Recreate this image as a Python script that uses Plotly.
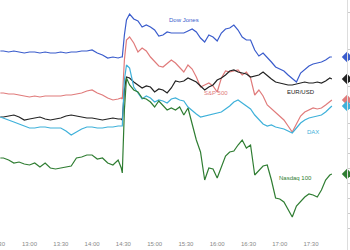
import plotly.graph_objects as go

DAY = "2024-01-10"

pre_times = ["12:32", "12:35", "12:40", "12:45", "12:50", "12:55", "13:00", "13:05", "13:10",
             "13:15", "13:20", "13:25", "13:30", "13:35", "13:40", "13:45", "13:50", "13:55",
             "14:00", "14:05", "14:10", "14:15", "14:20", "14:25", "14:28", "14:29"]
post_times = ["14:31", "14:33", "14:36", "14:40", "14:44", "14:48", "14:52", "14:56", "15:00",
              "15:04", "15:08", "15:12", "15:16", "15:20", "15:24", "15:28", "15:32", "15:36",
              "15:40", "15:44", "15:48", "15:52", "15:56", "16:00", "16:04", "16:08", "16:12",
              "16:16", "16:20", "16:24", "16:28", "16:32", "16:36", "16:40", "16:44", "16:48",
              "16:52", "16:56", "17:00", "17:04", "17:08", "17:12", "17:16", "17:20", "17:24",
              "17:28", "17:32", "17:36", "17:40", "17:44", "17:48", "17:50"]
times = [f"{DAY} {t}" for t in pre_times + post_times]

dow_jones = [199, 199, 198, 199, 198, 197, 198, 198, 197, 198, 197, 197, 198, 197, 198, 198, 199,
             199, 200, 197, 195, 192, 193, 192, 193, 193,
             215, 230, 236, 231, 229, 223, 225, 223, 220, 214, 215, 218, 217, 217, 217, 217, 219,
             221, 218, 212, 208, 215, 213, 209, 217, 221, 222, 225, 220, 213, 210, 210, 200, 194,
             197, 193, 188, 183, 181, 179, 175, 171, 168, 177, 181, 184, 186, 187, 188, 190, 193, 193]
sp500 = [157, 157, 156, 156, 155, 154, 153, 154, 153, 154, 154, 154, 154, 155, 155, 156, 157,
         159, 160, 157, 155, 152, 150, 151, 152, 151,
         190, 210, 213, 207, 198, 202, 199, 193, 188, 184, 183, 187, 190, 187, 183, 178, 185,
         181, 173, 163, 165, 167, 164, 158, 172, 179, 178, 179, 180, 175, 178, 172, 155, 160,
         154, 145, 141, 138, 134, 130, 124, 118, 126, 134, 138, 140, 142, 141, 142, 145, 149, 150]
eurusd = [133, 133, 134, 135, 133, 130, 131, 132, 133, 131, 130, 131, 132, 134, 135, 134, 133,
          132, 132, 131, 130, 131, 132, 131, 131, 130,
          160, 173, 172, 168, 165, 162, 164, 163, 158, 161, 160, 157, 162, 169, 168, 169, 172,
          170, 168, 164, 160, 163, 165, 170, 172, 175, 179, 180, 178, 177, 176, 173, 174, 175,
          178, 174, 171, 168, 167, 166, 165, 165, 166, 167, 168, 167, 167, 168, 167, 169, 172, 171]
dax = [133, 132, 130, 128, 126, 124, 122, 122, 123, 123, 122, 122, 122, 119, 115, 118, 121,
       123, 123, 122, 122, 123, 123, 124, 124, 124,
       170, 185, 182, 163, 157, 151, 154, 152, 148, 150, 149, 147, 151, 152, 150, 149, 143,
       139, 136, 133, 134, 135, 136, 137, 138, 141, 144, 148, 150, 147, 144, 141, 135, 131,
       126, 124, 125, 123, 122, 121, 119, 117, 122, 127, 130, 132, 133, 134, 135, 138, 142, 144]
nasdaq100 = [92, 92, 90, 87, 88, 86, 85, 87, 83, 87, 82, 81, 82, 83, 84, 92, 93, 95, 95, 91,
             92, 87, 85, 90, 82, 77,
             140, 172, 165, 160, 158, 152, 151, 148, 143, 149, 145, 140, 142, 140, 143, 135, 142,
             127, 110, 98, 70, 82, 81, 72, 84, 94, 98, 99, 105, 110, 102, 105, 75, 80,
             84, 85, 70, 52, 51, 48, 40, 33, 44, 49, 53, 56, 55, 53, 60, 70, 75, 76]

names = ["Dow Jones", "S&P 500", "EUR/USD", "DAX", "Nasdaq 100"]
series = [dow_jones, sp500, eurusd, dax, nasdaq100]
colors = ["#3a5ccc", "#e07b7b", "#222222", "#3fb1da", "#2f7d32"]

# label positions (time, value)
label_x = [f"{DAY} 15:28", f"{DAY} 15:59", f"{DAY} 17:20", f"{DAY} 17:32", f"{DAY} 17:15"]
label_y = [230, 157, 158, 118, 72]

x_start = f"{DAY} 12:31:42"
x_end = f"{DAY} 18:04:30"
marker_x = f"{DAY} 18:04:30"

fig = go.Figure()
for name, vals, col in zip(names, series, colors):
    fig.add_trace(go.Scatter(x=times, y=vals, mode="lines", name=name,
                             line=dict(color=col, width=1.2), hoverinfo="skip"))

fig.add_trace(go.Scatter(x=[marker_x] * len(series), y=[s[-1] for s in series], mode="markers",
                         marker=dict(symbol="diamond", size=8, color=colors),
                         cliponaxis=False, hoverinfo="skip", showlegend=False))

for name, lx, ly, col in zip(names, label_x, label_y, colors):
    fig.add_annotation(x=lx, y=ly, text=name, showarrow=False,
                       font=dict(size=6, color=col, family="Liberation Sans, Arial"))

# partially visible first time label at the left edge
fig.add_annotation(xref="paper", yref="paper", x=-0.006, y=0.026, text="12:30",
                   showarrow=False, xanchor="center", yanchor="middle",
                   font=dict(size=6, color="#888888", family="Liberation Sans, Arial"))

fig.update_layout(
    width=350, height=250,
    margin=dict(l=0, r=3, t=0, b=0),
    paper_bgcolor="white", plot_bgcolor="white",
    showlegend=False,
    xaxis=dict(range=[x_start, x_end], type="date", tickformat="%H:%M", dtick=30 * 60 * 1000,
               tick0=f"{DAY} 12:30", showgrid=False, zeroline=False, showline=False,
               ticks="", ticklabelposition="inside",
               tickfont=dict(size=6, color="#888888", family="Liberation Sans, Arial")),
    yaxis=dict(range=[0, 250], side="right", showgrid=False, zeroline=False, showline=True,
               linecolor="#dddddd", linewidth=1, ticks="outside", ticklen=3, tickcolor="#cccccc",
               tickmode="array", tickvals=[7, 22, 37, 52, 67, 82, 97, 112, 127, 164, 200.7, 237.3],
               showticklabels=False),
)

fig.write_html("out.html")
